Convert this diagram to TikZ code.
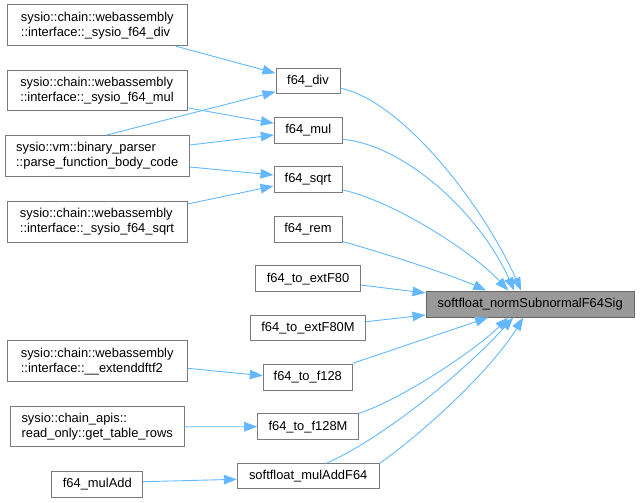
\documentclass[tikz,border=0pt]{standalone}
\usepackage{fontspec}
\setmainfont{Liberation Sans}
\usetikzlibrary{arrows.meta,calc}
\definecolor{edgeblue}{HTML}{63B8FF}
\definecolor{nodeborder}{HTML}{7A7A7A}
\definecolor{mainborder}{HTML}{666666}
\definecolor{mainfill}{HTML}{999999}
\begin{document}
\begin{tikzpicture}[x=1pt,y=-1pt,
  box/.style={draw=nodeborder,line width=1pt,fill=white,inner sep=0pt,
    font=\fontsize{12.9}{15}\selectfont,align=left},
  mainbox/.style={box,draw=mainborder,fill=mainfill},
  edge/.style={draw=edgeblue,line width=0.9pt,-{Triangle[length=13pt,width=9.5pt]}}]
\useasboundingbox (0,0) rectangle (640,503);
% left column
\node[box,minimum width=180pt,minimum height=40.7pt] (n1) at (97.3,25.3) {sysio::chain::webassembly\\::interface::\_sysio\_f64\_div};
\node[box,minimum width=180pt,minimum height=40.3pt] (n2) at (97,90.8) {sysio::chain::webassembly\\::interface::\_sysio\_f64\_mul};
\node[box,minimum width=184.3pt,minimum height=40.6pt] (parse) at (97.2,156) {sysio::vm::binary\_parser\\::parse\_function\_body\_code};
\node[box,minimum width=180pt,minimum height=41pt] (n3) at (97,221.5) {sysio::chain::webassembly\\::interface::\_sysio\_f64\_sqrt};
\node[box,minimum width=179.7pt,minimum height=40.7pt] (n4) at (97.2,361.3) {sysio::chain::webassembly\\::interface::\_\_extenddftf2};
\node[box,minimum width=173.7pt,minimum height=40.3pt] (n5) at (97.2,426.8) {sysio::chain\_apis::\\read\_only::get\_table\_rows};
\node[box,minimum width=90.7pt,minimum height=26pt] (muladd) at (97.3,484.3) {f64\_mulAdd};
% middle column
\node[box,minimum width=64pt,minimum height=25.5pt] (fdiv) at (308,81.2) {f64\_div};
\node[box,minimum width=67.7pt,minimum height=26pt] (fmul) at (308.2,130.3) {f64\_mul};
\node[box,minimum width=68pt,minimum height=25.6pt] (fsqrt) at (308,179.5) {f64\_sqrt};
\node[box,minimum width=68pt,minimum height=25.6pt] (frem) at (308,229.5) {f64\_rem};
\node[box,minimum width=104.6pt,minimum height=26pt] (fext80) at (308,278.7) {f64\_to\_extF80};
\node[box,minimum width=115.4pt,minimum height=25.4pt] (fext80m) at (308,328) {f64\_to\_extF80M};
\node[box,minimum width=89pt,minimum height=25.6pt] (f128) at (307.8,377.5) {f64\_to\_f128};
\node[box,minimum width=100.6pt,minimum height=26pt] (f128m) at (308,426.7) {f64\_to\_f128M};
\node[box,minimum width=141.7pt,minimum height=25.3pt] (mafs) at (308.2,476.3) {softfloat\_mulAddF64};
% main
\node[mainbox,minimum width=208.3pt,minimum height=26pt] (main) at (530.2,304) {softfloat\_normSubnormalF64Sig};
% left edges
\draw[edge] ($(n1.south)+(78.4,0)$) -- ($(fdiv.west)+(0,-8)$);
\draw[edge] ($(parse.north)+(8.8,0)$) -- ($(fdiv.west)+(0,10.5)$);
\draw[edge] ($(n2.east)+(0,17)$) -- ($(fmul.west)+(0,-7)$);
\draw[edge] ($(parse.east)+(0,-11)$) -- ($(fmul.west)+(0,4.7)$);
\draw[edge] ($(parse.east)+(0,11)$) -- ($(fsqrt.west)+(0,-4.5)$);
\draw[edge] ($(n3.east)+(0,-17.5)$) -- ($(fsqrt.west)+(0,6.5)$);
\draw[edge] ($(n4.east)+(0,7)$) -- ($(f128.west)+(0,-1.8)$);
\draw[edge] (n5.east) -- (f128m.west);
\draw[edge] ($(muladd.east)+(0,-2.6)$) -- ($(mafs.west)+(0,3)$);
% right edges
\draw[edge] ($(fdiv.east)+(0,7)$) .. controls +(59,11.7) and +(-41,-91) .. ($(main.north)+(-9,0)$);
\draw[edge] ($(fmul.east)+(0,9)$) .. controls +(63,5.7) and +(-34,-76) .. ($(main.north)+(-16,0)$);
\draw[edge] ($(fsqrt.east)+(0,10.5)$) .. controls +(48,10) and +(-38,-41) .. ($(main.north)+(-22,0)$);
\draw[edge] ($(frem.east)+(0,12)$) .. controls +(38,10.5) and +(-36,-16) .. ($(main.north)+(-44,0)$);
\draw[edge] ($(fext80.east)+(0,6.3)$) -- ($(main.west)+(0,-11)$);
\draw[edge] ($(fext80m.east)+(0,-6.3)$) -- ($(main.west)+(0,11)$);
\draw[edge] ($(f128.east)+(0,-14.2)$) -- ($(main.south)+(-42,0)$);
\draw[edge] ($(f128m.east)+(0,-13.4)$) .. controls +(41.7,-13.3) and +(-33,33) .. ($(main.south)+(-22,0)$);
\draw[edge] ($(mafs.north)+(18.5,0)$) .. controls +(63.3,-28.7) and +(-43,48) .. ($(main.south)+(-17,0)$);
\draw[edge] ($(mafs.east)+(0,-13)$) .. controls +(41,-28.3) and +(-32,53) .. ($(main.south)+(-7,0)$);
\end{tikzpicture}
\end{document}
